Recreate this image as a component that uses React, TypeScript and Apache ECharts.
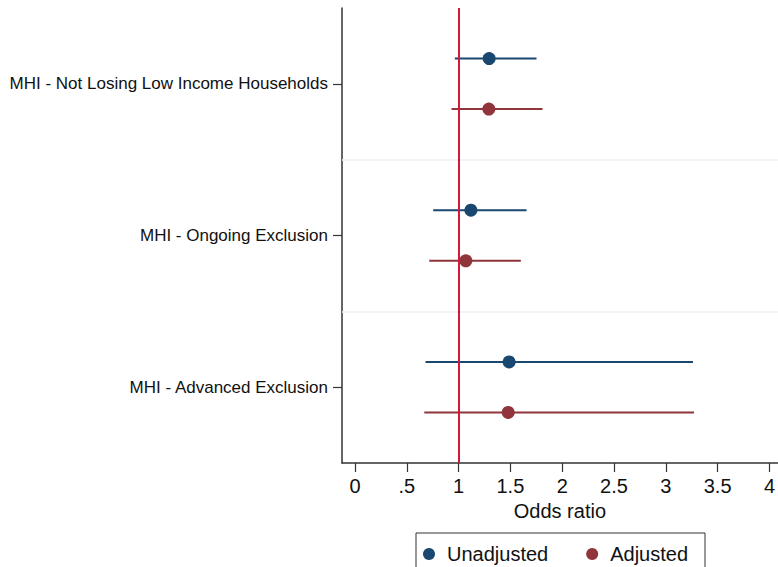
import React, { useEffect, useRef } from "react";
import * as echarts from "echarts";

const categories = [
  "MHI - Not Losing Low Income Households",
  "MHI - Ongoing Exclusion",
  "MHI - Advanced Exclusion",
];
const unadjustedOR = [1.295, 1.119, 1.488];
const unadjustedLo = [0.964, 0.755, 0.681];
const unadjustedHi = [1.752, 1.656, 3.262];
const adjustedOR = [1.292, 1.07, 1.479];
const adjustedLo = [0.932, 0.717, 0.669];
const adjustedHi = [1.81, 1.601, 3.272];
const xTicks = [0, 0.5, 1, 1.5, 2, 2.5, 3, 3.5, 4];
const xTickLabels = ["0", ".5", "1", "1.5", "2", "2.5", "3", "3.5", "4"];
const referenceOR = 1;

const NAVY = "#1a476f";
const MAROON = "#90353b";
const FONT = "'Liberation Sans', Arial, Helvetica, sans-serif";

export default function App() {
  const ref = useRef<HTMLDivElement>(null);
  useEffect(() => {
    if (!ref.current) return;
    const chart = echarts.init(ref.current, null, { renderer: "svg" });
    const unPos = categories.map((_, i) => i + 1 / 3);
    const adPos = categories.map((_, i) => i + 2 / 3);
    const ciRender = (color: string) => (params: any, api: any) => {
      const lo = api.value(0);
      const hi = api.value(1);
      const y = api.value(2);
      const p1 = api.coord([lo, y]);
      const p2 = api.coord([hi, y]);
      return {
        type: "line",
        shape: { x1: p1[0], y1: p1[1], x2: p2[0], y2: p2[1] },
        style: { stroke: color, lineWidth: 2 },
      };
    };
    chart.setOption({
      animation: false,
      textStyle: { fontFamily: FONT },
      grid: { left: 342, right: 0, top: 8, bottom: 104 },
      legend: {
        data: ["Unadjusted", "Adjusted"],
        left: 416,
        top: 533,
        orient: "horizontal",
        icon: "circle",
        itemWidth: 12,
        itemHeight: 12,
        itemGap: 38,
        padding: [11, 17, 30, 7],
        borderColor: "#333",
        borderWidth: 1,
        textStyle: { fontSize: 20, color: "#111", fontFamily: FONT, padding: [0, 0, 0, 7] },
      },
      xAxis: {
        type: "value",
        min: -0.125,
        max: 4.08,
        name: "Odds ratio",
        nameLocation: "middle",
        nameGap: 37,
        nameTextStyle: { fontSize: 20, color: "#111", fontFamily: FONT },
        axisLine: { show: true, onZero: false, lineStyle: { color: "#333", width: 1.5 } },
        axisTick: { show: true, customValues: xTicks, length: 9, lineStyle: { color: "#333", width: 1.2 } },
        axisLabel: {
          customValues: xTicks,
          fontSize: 20,
          color: "#111",
          margin: 13,
          formatter: (v: number) => {
            const idx = xTicks.findIndex((t) => Math.abs(t - v) < 1e-6);
            return idx >= 0 ? xTickLabels[idx] : "";
          },
        },
        splitLine: { show: false },
      },
      yAxis: [
        {
          type: "category",
          data: categories,
          inverse: true,
          boundaryGap: true,
          position: "left",
          axisLine: { show: true, onZero: false, lineStyle: { color: "#333", width: 1.5 } },
          axisTick: { show: true, alignWithLabel: true, length: 9, lineStyle: { color: "#333", width: 1.2 } },
          axisLabel: { fontSize: 17, color: "#111", margin: 14, fontFamily: FONT },
          splitLine: { show: false },
        },
        {
          type: "value",
          min: 0,
          max: 3,
          inverse: true,
          show: false,
          axisLine: { onZero: false },
          splitLine: { show: false },
        },
      ],
      series: [
        {
          type: "custom",
          name: "Unadjusted CI",
          yAxisIndex: 1,
          renderItem: ciRender(NAVY),
          encode: { x: [0, 1], y: 2 },
          data: categories.map((_, i) => [unadjustedLo[i], unadjustedHi[i], unPos[i]]),
          z: 2,
          markLine: {
            silent: true,
            symbol: ["none", "none"],
            label: { show: false },
            lineStyle: { color: "#eaf1f3", width: 1.5, type: "solid" },
            data: [{ yAxis: 1 }, { yAxis: 2 }],
          },
        },
        {
          type: "custom",
          name: "Adjusted CI",
          yAxisIndex: 1,
          renderItem: ciRender(MAROON),
          encode: { x: [0, 1], y: 2 },
          data: categories.map((_, i) => [adjustedLo[i], adjustedHi[i], adPos[i]]),
          z: 2,
        },
        {
          type: "scatter",
          name: "Unadjusted",
          yAxisIndex: 1,
          symbol: "circle",
          symbolSize: 13,
          itemStyle: { color: NAVY, opacity: 1 },
          data: categories.map((_, i) => [unadjustedOR[i], unPos[i]]),
          z: 4,
          markLine: {
            silent: true,
            symbol: ["none", "none"],
            label: { show: false },
            lineStyle: { color: "#d6173a", width: 2, type: "solid" },
            data: [{ xAxis: referenceOR }],
          },
        },
        {
          type: "scatter",
          name: "Adjusted",
          yAxisIndex: 1,
          symbol: "circle",
          symbolSize: 13,
          itemStyle: { color: MAROON, opacity: 1 },
          data: categories.map((_, i) => [adjustedOR[i], adPos[i]]),
          z: 4,
        },
      ],
    });
    return () => chart.dispose();
  }, []);
  return (
    <div
      ref={ref}
      style={{ position: "fixed", left: 0, top: 0, width: 778, height: 567, background: "#fff" }}
    />
  );
}
